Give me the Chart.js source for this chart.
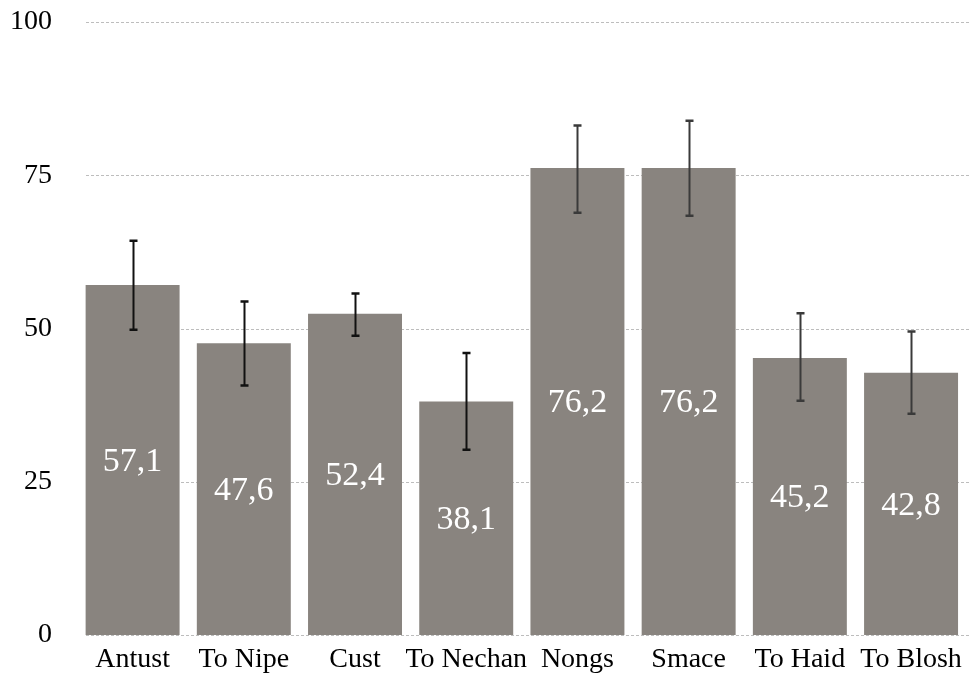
<!DOCTYPE html>
<html>
<head>
<meta charset="utf-8">
<style>
  html, body { margin: 0; padding: 0; background: #fff; overflow: hidden; }
  #wrap { width: 970px; height: 684px; }
  canvas { display: block; }
</style>
<script src="https://cdn.jsdelivr.net/npm/chart.js@4.4.1/dist/chart.umd.min.js"></script>
</head>
<body>
<div id="wrap"><canvas id="barChart"></canvas></div>
<script>
const categories = ['Antust', 'To Nipe', 'Cust', 'To Nechan', 'Nongs', 'Smace', 'To Haid', 'To Blosh'];
const values = [57.1, 47.6, 52.4, 38.1, 76.2, 76.2, 45.2, 42.8];
const errLow = [49.8, 40.7, 48.8, 30.2, 68.9, 68.4, 38.2, 36.1];
const errHigh = [64.3, 54.4, 55.7, 46.0, 83.1, 83.9, 52.5, 49.5];
const yTicks = [0, 25, 50, 75, 100];

const serif = '"Liberation Serif", "Times New Roman", serif';

// dotted grid, starts a bit right of the plot edge like the original
const gridPlugin = {
    id: 'dottedGrid',
    beforeDatasetsDraw(chart) {
        const ctx = chart.ctx;
        const y = chart.scales.y;
        const left = chart.chartArea.left + 9;
        ctx.save();
        ctx.strokeStyle = '#bdbdbd';
        ctx.lineWidth = 1;
        ctx.setLineDash([3, 2]);
        yTicks.forEach(v => {
            const py = Math.round(y.getPixelForValue(v)) + 0.5;
            ctx.beginPath();
            ctx.moveTo(left, py);
            ctx.lineTo(chart.width, py);
            ctx.stroke();
        });
        ctx.restore();
    }
};

const errorBarPlugin = {
    id: 'errorBars',
    afterDatasetsDraw(chart) {
        const ctx = chart.ctx;
        const x = chart.scales.x;
        const y = chart.scales.y;
        ctx.save();
        errLow.forEach((lo, i) => {
            const cx = Math.round(x.getPixelForValue(i)) + 0.5;
            const yTop = y.getPixelForValue(errHigh[i]);
            const yBot = y.getPixelForValue(lo);
            ctx.strokeStyle = i < 4 ? '#111' : '#3a3a3a';
            ctx.lineWidth = 2;
            ctx.beginPath();
            ctx.moveTo(cx, yTop);
            ctx.lineTo(cx, yBot);
            ctx.stroke();
            ctx.lineWidth = 2.5;
            ctx.beginPath();
            ctx.moveTo(cx - 4, yTop);
            ctx.lineTo(cx + 4, yTop);
            ctx.moveTo(cx - 4, yBot);
            ctx.lineTo(cx + 4, yBot);
            ctx.stroke();
        });
        ctx.restore();
    }
};

const barLabelPlugin = {
    id: 'barLabels',
    afterDatasetsDraw(chart) {
        const ctx = chart.ctx;
        const meta = chart.getDatasetMeta(0);
        ctx.save();
        ctx.fillStyle = '#fff';
        ctx.font = '34px ' + serif;
        ctx.textAlign = 'center';
        ctx.textBaseline = 'middle';
        meta.data.forEach((bar, i) => {
            const mid = (bar.y + bar.base) / 2;
            ctx.fillText(values[i].toFixed(1).replace('.', ','), bar.x, mid + 2);
        });
        ctx.restore();
    }
};

const ctx = document.getElementById('barChart').getContext('2d');
const barChart = new Chart(ctx, {
    type: 'bar',
    data: {
        labels: categories,
        datasets: [{
            data: values,
            backgroundColor: '#89847f',
            borderWidth: 0,
            barPercentage: 0.845,
            categoryPercentage: 1.0
        }]
    },
    options: {
        responsive: true,
        maintainAspectRatio: false,
        animation: false,
        layout: { padding: { top: 22, right: 3, left: 0, bottom: 0 } },
        plugins: {
            legend: { display: false },
            tooltip: { enabled: false }
        },
        scales: {
            x: {
                grid: { display: false, drawTicks: false },
                border: { display: false },
                ticks: {
                    color: '#000',
                    font: { family: serif, size: 28 },
                    padding: 8,
                    maxRotation: 0,
                    autoSkip: false
                },
                afterFit(scale) { scale.height = 49; }
            },
            y: {
                min: 0,
                max: 100,
                afterBuildTicks(scale) { scale.ticks = yTicks.map(v => ({ value: v })); },
                grid: { display: false, drawTicks: false },
                border: { display: false },
                ticks: {
                    color: '#000',
                    font: { family: serif, size: 28 },
                    padding: 25
                },
                afterFit(scale) {
                    scale.width = 77;
                    scale.paddingTop = 0;
                    scale.paddingBottom = 0;
                }
            }
        }
    },
    plugins: [gridPlugin, errorBarPlugin, barLabelPlugin]
});
</script>
</body>
</html>
